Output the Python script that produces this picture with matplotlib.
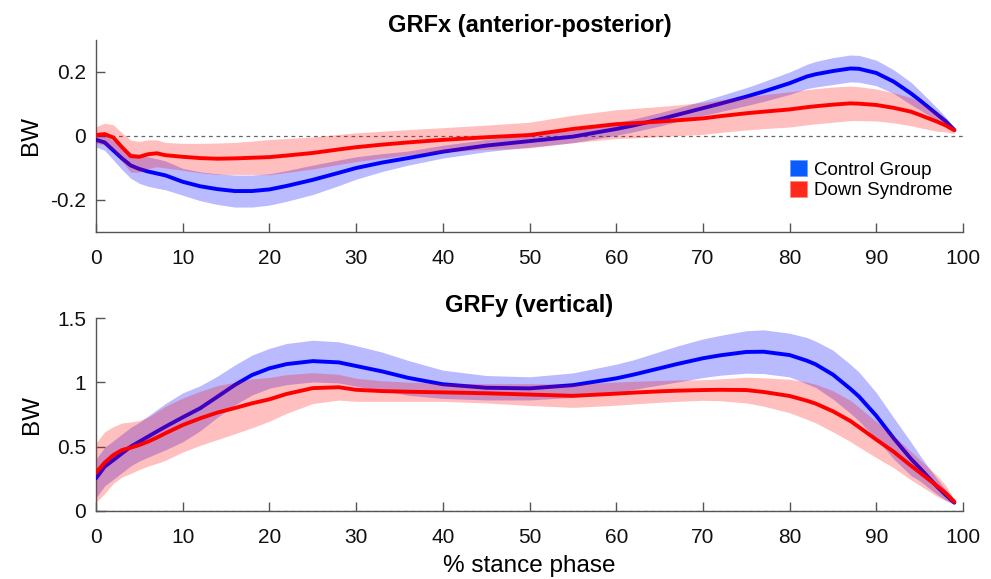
import matplotlib
matplotlib.use("Agg")
import matplotlib.pyplot as plt
from matplotlib.patches import Patch
import numpy as np

plt.rcParams['font.family'] = ['Liberation Sans', 'DejaVu Sans']

# % stance phase sample points
stance = [0, 1, 2, 3, 4, 5, 6, 7, 8, 10, 12, 14, 16, 18, 20, 22, 25, 28, 30, 33, 36,
          40, 45, 50, 55, 60, 62, 65, 67, 70, 72, 75, 77, 80, 82, 83, 85, 87, 88, 90,
          92, 94, 95, 97, 98, 99]

# GRFx (anterior-posterior), BW
grfx_ctrl_mean = [-0.012, -0.02, -0.045, -0.07, -0.092, -0.103, -0.111, -0.117, -0.123, -0.143,
                  -0.157, -0.166, -0.172, -0.172, -0.167, -0.156, -0.137, -0.115, -0.1, -0.083,
                  -0.069, -0.049, -0.03, -0.016, -0.002, 0.022, 0.033, 0.052, 0.066, 0.087,
                  0.101, 0.123, 0.139, 0.165, 0.186, 0.193, 0.203, 0.211, 0.21, 0.197,
                  0.17, 0.133, 0.112, 0.068, 0.046, 0.019]
grfx_ctrl_sd = [0.022, 0.025, 0.03, 0.035, 0.04, 0.045, 0.046, 0.046, 0.045, 0.042,
                0.045, 0.048, 0.05, 0.05, 0.049, 0.048, 0.046, 0.04, 0.035, 0.028,
                0.022, 0.02, 0.019, 0.019, 0.019, 0.02, 0.02, 0.021, 0.021, 0.023,
                0.025, 0.028, 0.031, 0.035, 0.038, 0.04, 0.042, 0.042, 0.042, 0.04,
                0.037, 0.035, 0.03, 0.02, 0.013, 0.006]
grfx_ds_mean = [0.003, 0.006, -0.005, -0.035, -0.063, -0.065, -0.057, -0.054, -0.06, -0.065,
                -0.069, -0.071, -0.07, -0.068, -0.066, -0.061, -0.053, -0.042, -0.035, -0.027,
                -0.02, -0.012, -0.004, 0.003, 0.022, 0.037, 0.04, 0.045, 0.049, 0.055,
                0.062, 0.071, 0.076, 0.083, 0.09, 0.093, 0.098, 0.102, 0.101, 0.097,
                0.088, 0.076, 0.066, 0.045, 0.033, 0.018]
grfx_ds_sd = [0.026, 0.034, 0.04, 0.045, 0.05, 0.048, 0.045, 0.042, 0.04, 0.042,
              0.046, 0.049, 0.05, 0.052, 0.055, 0.053, 0.05, 0.047, 0.045, 0.042,
              0.04, 0.038, 0.038, 0.04, 0.043, 0.045, 0.046, 0.047, 0.048, 0.05,
              0.051, 0.052, 0.053, 0.055, 0.055, 0.055, 0.055, 0.054, 0.053, 0.05,
              0.047, 0.044, 0.04, 0.03, 0.02, 0.01]

# GRFy (vertical), BW
grfy_ctrl_mean = [0.254, 0.345, 0.396, 0.448, 0.5, 0.539, 0.578, 0.617, 0.655, 0.728,
                  0.798, 0.888, 0.979, 1.057, 1.109, 1.142, 1.165, 1.155, 1.127, 1.085,
                  1.035, 0.985, 0.958, 0.953, 0.978, 1.031, 1.06, 1.109, 1.142, 1.187,
                  1.21, 1.236, 1.238, 1.212, 1.168, 1.14, 1.06, 0.95, 0.89, 0.74,
                  0.565, 0.405, 0.335, 0.19, 0.125, 0.065]
grfy_ctrl_sd = [0.15, 0.15, 0.15, 0.15, 0.15, 0.15, 0.16, 0.17, 0.18, 0.19,
                0.175, 0.16, 0.155, 0.155, 0.155, 0.16, 0.162, 0.16, 0.158, 0.15,
                0.135, 0.11, 0.095, 0.09, 0.095, 0.11, 0.115, 0.13, 0.14, 0.15,
                0.155, 0.165, 0.17, 0.17, 0.18, 0.18, 0.19, 0.19, 0.19, 0.18,
                0.16, 0.13, 0.1, 0.06, 0.04, 0.015]
grfy_ds_mean = [0.298, 0.376, 0.435, 0.474, 0.492, 0.513, 0.539, 0.57, 0.604, 0.668,
                0.72, 0.765, 0.8, 0.837, 0.868, 0.91, 0.955, 0.962, 0.942, 0.932,
                0.927, 0.922, 0.915, 0.905, 0.895, 0.912, 0.92, 0.93, 0.935, 0.94,
                0.942, 0.94, 0.925, 0.894, 0.857, 0.835, 0.775, 0.7, 0.652, 0.555,
                0.461, 0.352, 0.3, 0.195, 0.14, 0.072]
grfy_ds_sd = [0.23, 0.24, 0.22, 0.21, 0.2, 0.19, 0.19, 0.2, 0.21, 0.21,
              0.21, 0.21, 0.2, 0.19, 0.17, 0.15, 0.12, 0.1, 0.09, 0.08,
              0.075, 0.07, 0.075, 0.085, 0.09, 0.09, 0.088, 0.085, 0.083, 0.08,
              0.085, 0.1, 0.11, 0.13, 0.145, 0.15, 0.16, 0.16, 0.155, 0.14,
              0.125, 0.11, 0.1, 0.08, 0.06, 0.02]

xticks = [0, 10, 20, 30, 40, 50, 60, 70, 80, 90, 100]
top_yticks = [-0.2, 0, 0.2]
top_ylabels = ['-0.2', '0', '0.2']
bot_yticks = [0, 0.5, 1, 1.5]
bot_ylabels = ['0', '0.5', '1', '1.5']

W, H = 991, 579
fig = plt.figure(figsize=(W / 100, H / 100), dpi=100)
L, R = 96 / W, 963 / W
ax1 = fig.add_axes([L, 1 - 232 / H, R - L, (232 - 40) / H])
ax2 = fig.add_axes([L, 1 - 511 / H, R - L, (511 - 318) / H])

axis_col = '#555555'
x = np.array(stance)


def draw(ax, cm, cs, dm, ds):
    cm, cs, dm, ds = map(np.array, (cm, cs, dm, ds))
    ax.axhline(0, color='#666666', lw=0.9, ls=(0, (3, 3)), zorder=1)
    ax.fill_between(x, cm - cs, cm + cs, color=(0, 0, 1), alpha=0.27, lw=0, zorder=2)
    ax.plot(x, cm, color=(0, 0, 1), lw=2.8, zorder=3, solid_capstyle='round',
            solid_joinstyle='round')
    ax.fill_between(x, dm - ds, dm + ds, color=(1, 0, 0), alpha=0.25, lw=0, zorder=4)
    ax.plot(x, dm, color=(1, 0, 0), lw=2.8, zorder=5, solid_capstyle='round',
            solid_joinstyle='round')
    ax.set_xlim(0, 100)
    ax.set_xticks(xticks)
    ax.set_xticklabels([str(t) for t in xticks])
    for s in ['top', 'right']:
        ax.spines[s].set_visible(False)
    for s in ['left', 'bottom']:
        ax.spines[s].set_color(axis_col)
        ax.spines[s].set_linewidth(1.0)
    ax.tick_params(direction='in', length=6.5, width=1.0, color=axis_col,
                   labelsize=15, labelcolor='#111111')
    ax.tick_params(axis='y', pad=7)
    ax.tick_params(axis='x', pad=12)


draw(ax1, grfx_ctrl_mean, grfx_ctrl_sd, grfx_ds_mean, grfx_ds_sd)
ax1.set_ylim(-0.3, 0.3)
ax1.set_yticks(top_yticks)
ax1.set_yticklabels(top_ylabels)
ax1.set_ylabel('BW', fontsize=17.5, labelpad=6)
ax1.set_title('GRFx (anterior-posterior)', fontsize=17, fontweight='bold', pad=6)

draw(ax2, grfy_ctrl_mean, grfy_ctrl_sd, grfy_ds_mean, grfy_ds_sd)
ax2.set_ylim(0, 1.5)
ax2.set_yticks(bot_yticks)
ax2.set_yticklabels(bot_ylabels)
ax2.set_ylabel('BW', fontsize=17.5, labelpad=10)
ax2.set_xlabel('% stance phase', fontsize=17.5, labelpad=6)
ax2.set_title('GRFy (vertical)', fontsize=17, fontweight='bold', pad=4)

handles = [Patch(facecolor='#0a5cff', edgecolor='#6aa0ff', lw=0.6, label='Control Group'),
           Patch(facecolor='#ff2a1a', edgecolor='#ff8a80', lw=0.6, label='Down Syndrome')]
ax1.legend(handles=handles, loc='upper left', bbox_to_anchor=(0.80, 0.375),
           frameon=False, fontsize=13.5, handlelength=0.95, handleheight=0.95,
           handletextpad=0.35, labelspacing=0.12, borderpad=0.0, borderaxespad=0.0)

fig.savefig('out.png', dpi=100)
